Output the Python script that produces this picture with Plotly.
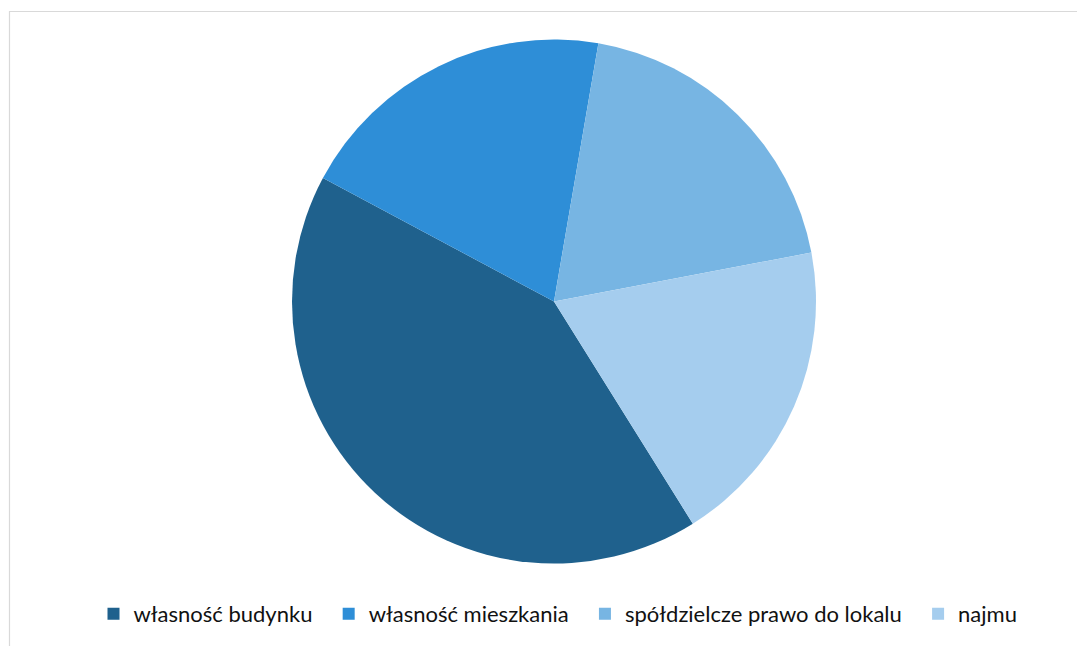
import plotly.graph_objects as go

labels = ["własność budynku", "własność mieszkania", "spółdzielcze prawo do lokalu", "najmu"]
values = [41.7, 19.9, 19.3, 19.1]
colors = ["#1F618D", "#2E8ED7", "#77B5E3", "#A5CDEE"]

W, H = 1085, 646
OFF = 8  # page body offset
PAD = "\u00a0\u00a0"
legend_text = [l + PAD for l in labels[:-1]] + [labels[-1]]

fig = go.Figure(go.Pie(
    labels=legend_text, values=values, sort=False, direction="clockwise",
    rotation=148, textinfo="none", hoverinfo="label+percent",
    marker=dict(colors=colors, line=dict(width=0)),
    domain=dict(x=[(292 - OFF) / W, (816 - OFF) / W],
                y=[(H - (564 - OFF)) / H, (H - (39 - OFF)) / H]),
))
fig.update_layout(
    width=W, height=H, margin=dict(l=0, r=0, t=0, b=0),
    paper_bgcolor="white", plot_bgcolor="white",
    font=dict(family="Lato, Carlito, Calibri, sans-serif", size=22, color="#111111"),
    legend=dict(orientation="h", x=(558 - OFF) / W, xanchor="center",
                y=(H - (614 - OFF)) / H, yanchor="middle",
                font=dict(size=22), tracegroupgap=0),
    shapes=[dict(type="rect", xref="paper", yref="paper",
                 x0=(9.5 - OFF) / W, x1=1.02, y0=-0.02, y1=(H - (11.5 - OFF)) / H,
                 line=dict(color="#D9D9D9", width=1.2), fillcolor="rgba(0,0,0,0)")],
)
fig.write_html("out.html")
